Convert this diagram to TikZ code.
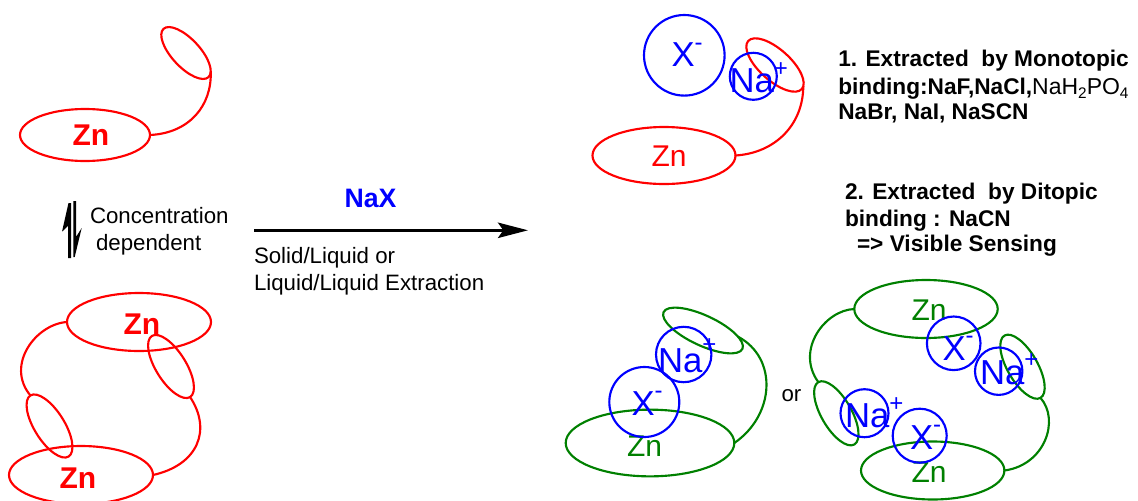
\documentclass[tikz,border=0pt]{standalone}
\usepackage{fontspec}
\setmainfont{Liberation Sans}
\usetikzlibrary{shapes.geometric,arrows.meta}
\definecolor{rred}{RGB}{255,0,0}
\definecolor{rblue}{RGB}{0,0,255}
\definecolor{rgreen}{RGB}{0,128,0}
\newcommand{\fsz}[1]{\fontsize{#1}{#1}\selectfont}
\newcommand{\upx}[2][12.5pt]{\raisebox{#1}{\fsz{18pt}#2}}
\tikzset{
  ring/.style n args={3}{ellipse,draw,line width=1.6pt,inner sep=0pt,outer sep=0pt,
    minimum width=#1*0.75pt,minimum height=#2*0.75pt,rotate=#3},
  ion/.style={circle,draw=rblue,line width=1.6pt,inner sep=0pt,outer sep=0pt,minimum size=#1*1.5pt},
  txt/.style={anchor=base west,inner sep=0pt,outer sep=0pt,text=black},
  small/.style={txt,font=\fsz{16.7pt}},
  bold/.style={txt,font=\fsz{17pt}\bfseries},
  znb/.style={txt,text=rred,font=\fsz{22.5pt}\bfseries},
  znr/.style={txt,font=\fsz{22.5pt}},
  ionlab/.style={txt,text=rblue,font=\fsz{26pt}},
  link/.style={line width=1.6pt,line cap=round},
}
\begin{document}
\begin{tikzpicture}[x=0.75pt,y=-0.75pt]
\useasboundingbox (0,0) rectangle (1138,500);
% --- red, upper left
\node[ring={130}{52}{0},draw=rred] (zA) at (85,135) {};
\node[ring={66}{28}{-47},draw=rred] (lA) at (186,53) {};
\draw[link,rred] (zA.east) .. controls (190,133) and (212,105) .. (lA.10);
\node[znb] (tA) at (72.5,145.5) {Zn};
% --- equilibrium half arrows
\fill[black] (71,258) -- (68,258) -- (68,226) -- (62,231.7) -- (68.5,203) -- (71,203) -- cycle;
\fill[black] (73.3,201) -- (76,201) -- (76,237) -- (81.7,228) -- (74.7,257) -- (73.3,257) -- cycle;
\node[small] (tB) at (90,223.5) {Concentration};
\node[small] (tC) at (96,250) {dependent};
% --- main arrow
\coordinate (aS) at (254,230.3);
\coordinate (aE) at (528,230.3);
\draw[line width=2.25pt,-{Stealth[length=22.5pt,width=11.5pt,inset=4pt]}] (aS) -- (aE);
\node[txt,text=rblue,font=\fsz{20pt}\bfseries] (tD) at (344.5,207.7) {NaX};
\node[small] (tE) at (254,263.3) {Solid/Liquid or};
\node[small] (tF) at (254,290) {Liquid/Liquid Extraction};
% --- red, lower left
\node[ring={144}{58}{0},draw=rred] (zB) at (139,322) {};
\node[ring={144}{58}{0},draw=rred] (zC) at (81,475) {};
\node[ring={72}{30}{-58},draw=rred] (lB) at (171,366.5) {};
\node[ring={72}{30}{-58},draw=rred] (lC) at (49.5,426) {};
\draw[link,rred] (zB.west) .. controls (36,324) and (5,365) .. (lC.west);
\draw[link,rred] (lB.east) .. controls (212,430) and (198,465) .. (zC.east);
\node[znb] (tG) at (123.5,334) {Zn};
\node[znb] (tH) at (59.5,488) {Zn};
% --- top right complex
\node[ring={143}{57}{0},draw=rred] (zD) at (664,155.5) {};
\node[ring={72}{31}{-42},draw=rred] (lD) at (775,65) {};
\draw[link,rred] (zD.east) .. controls (775,153) and (803,125) .. (lD.5);
\node[znr,text=rred] (tI) at (651.5,166.7) {Zn};
\node[ion=40.3] (xA) at (684.3,55.3) {};
\node[ion=23.5] (nA) at (753.3,76.3) {};
\node[ionlab] (tJ) at (671.5,66.7) {X\upx{-}};
\node[ionlab] (tK) at (729.5,92.7) {Na\upx{+}};
% --- text block 1
\node[bold] (tL) at (838.3,66.7) {1. Extracted\ \ by Monotopic};
\node[bold] (tM) at (838.3,94) {binding:NaF,NaCl,{\mdseries\fsz{17.25pt}NaH\raisebox{-3pt}{\fsz{11.5pt}2}PO\raisebox{-3pt}{\fsz{11.5pt}4}}};
\node[bold] (tN) at (838.3,119.3) {NaBr, NaI, NaSCN};
% --- text block 2
\node[bold] (tO) at (845,199.3) {2. Extracted\ \ by Ditopic};
\node[bold] (tP) at (845,226.7) {binding : NaCN};
\node[bold] (tQ) at (857,251.7) {=> Visible Sensing};
% --- green, bottom middle
\node[ring={168.6}{66.7}{0},draw=rgreen] (zE) at (650,443) {};
\node[ring={87}{30}{-25},draw=rgreen] (lE) at (703,330.5) {};
\draw[link,rgreen] (lE.15) .. controls (778,358) and (775,415) .. (zE.east);
\node[znr,text=rgreen] (tR) at (627,456) {Zn};
\node[ion=35] (xB) at (644.3,402) {};
\node[ion=27.7] (nB) at (683.7,354.5) {};
\node[ionlab] (tS) at (631.5,415) {X\upx{-}};
\node[ionlab] (tT) at (658,372.7) {Na\upx[15pt]{+}};
\node[small] (tU) at (781.5,401) {or};
% --- green, bottom right
\node[ring={143.4}{58}{0},draw=rgreen] (zF) at (926,309) {};
\node[ring={143.4}{58}{0},draw=rgreen] (zG) at (932.7,470.5) {};
\node[ring={72}{30}{-60},draw=rgreen] (lF) at (1022.5,366.7) {};
\node[ring={72}{30}{-60},draw=rgreen] (lG) at (836.3,413.3) {};
\draw[link,rgreen] (zF.west) .. controls (825,310) and (795,350) .. (lG.west);
\draw[link,rgreen] (lF.east) .. controls (1060,420) and (1045,465) .. (zG.east);
\node[znr,text=rgreen] (tV) at (911.5,320) {Zn};
\node[znr,text=rgreen] (tW) at (911.5,482.7) {Zn};
\node[ion=26.8] (xC) at (953.7,343.3) {};
\node[ion=23.7] (nC) at (998.7,371.2) {};
\node[ion=24] (nD) at (864.5,413.2) {};
\node[ion=27] (xD) at (919.7,435.7) {};
\node[ionlab] (tX) at (942.5,360) {X\upx{-}};
\node[ionlab] (tY) at (980,384.3) {Na\upx{+}};
\node[ionlab] (tZ) at (845,427.7) {Na\upx{+}};
\node[ionlab] (tAA) at (910,449) {X\upx{-}};
\end{tikzpicture}
\end{document}
